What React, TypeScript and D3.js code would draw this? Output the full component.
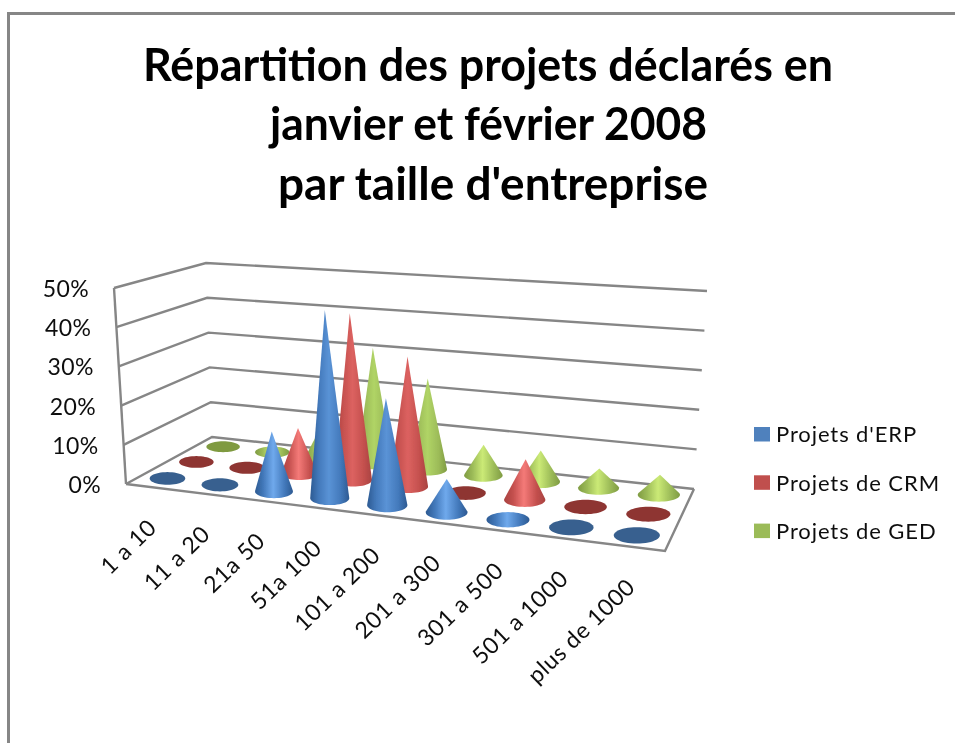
import React from "react";
import * as d3 from "d3";

const categories = ["1 a 10", "11 a 20", "21a 50", "51a 100", "101 a 200", "201 a 300", "301 a 500", "501 a 1000", "plus de 1000"];
const seriesNames = ["Projets d'ERP", "Projets de CRM", "Projets de GED"];
const erp = [0, 0, 15, 46.5, 26, 8, 1.5, 0, 0];
const crm = [0, 0, 12, 43, 33, 0, 10, 0, 0];
const ged = [0, 1, 9, 31, 24, 8, 8, 5, 5];
const yTicks = [0, 10, 20, 30, 40, 50];
const titleLines = ["Répartition des projets déclarés en", "janvier et février 2008", "par taille d'entreprise"];

const W = 955;
const H = 743;
const values = [erp, crm, ged];

// flat colour = zero value disc, edge/mid = cone shading
const palette = [
  { flat: "#38618f", edge: "#2d5a92", body: "#4379bb", tall: "#5a93d6", short: "#6fa9ec", swatch: "#4f81bd" },
  { flat: "#8e3533", edge: "#a84240", body: "#c4504e", tall: "#dc6260", short: "#f47a78", swatch: "#c0504d" },
  { flat: "#7f9a41", edge: "#7f9b42", body: "#9cbb58", tall: "#b0d466", short: "#cbea76", swatch: "#9bbb59" },
];
const shades = ["tall", "short"] as const;

type Pt = [number, number];

// projective map of the unit square onto a quad (p00, p10, p11, p01)
function homography(q: Pt[]) {
  const [p0, p1, p2, p3] = q;
  const dx1 = p1[0] - p2[0], dx2 = p3[0] - p2[0], sx = p0[0] - p1[0] + p2[0] - p3[0];
  const dy1 = p1[1] - p2[1], dy2 = p3[1] - p2[1], sy = p0[1] - p1[1] + p2[1] - p3[1];
  const den = dx1 * dy2 - dx2 * dy1;
  const g = (sx * dy2 - dx2 * sy) / den;
  const h = (dx1 * sy - sx * dy1) / den;
  const a = p1[0] - p0[0] + g * p1[0], b = p3[0] - p0[0] + h * p3[0];
  const d = p1[1] - p0[1] + g * p1[1], e = p3[1] - p0[1] + h * p3[1];
  return (u: number, v: number): Pt => {
    const w = g * u + h * v + 1;
    return [(a * u + b * v + p0[0]) / w, (d * u + e * v + p0[1]) / w];
  };
}

// u runs left to right, v runs front to back
const floorQuad: Pt[] = [[126, 484], [665, 551], [694, 489], [212, 437]];
const topQuad: Pt[] = [[114, 288], [684, 326], [707, 291], [206, 263]];
const floor = homography(floorQuad);
const ceiling = homography(topQuad);

const uScale = d3.scaleBand<number>().domain(d3.range(categories.length)).range([0, 1]);
const vScale = d3.scaleBand<number>().domain([0, 1, 2]).range([0, 1]);
const hScale = d3.scaleLinear().domain([0, 50]).range([0, 1]);

function project(u: number, v: number, val: number): Pt {
  const a = floor(u, v);
  const b = ceiling(u, v);
  const t = hScale(val);
  return [a[0] + (b[0] - a[0]) * t, a[1] + (b[1] - a[1]) * t];
}

const line = d3.line();

function conePath(c: number, s: number, val: number) {
  const u = uScale(c)! + uScale.bandwidth() / 2;
  const v = vScale(s)! + vScale.bandwidth() / 2;
  const ru = uScale.bandwidth() * 0.345;
  const rv = vScale.bandwidth() * 0.37;
  const [cx, cy] = floor(u, v);
  // the base stays a level ellipse, only its size follows the perspective
  const rx = (floor(u + ru, v)[0] - floor(u - ru, v)[0]) / 2;
  const ry = Math.abs(floor(u, v + rv)[1] - floor(u, v - rv)[1]) / 2;
  const ring: Pt[] = d3.range(48).map((i) => {
    const a = (i / 48) * Math.PI * 2;
    return [cx + rx * Math.cos(a), cy + ry * Math.sin(a)];
  });
  if (val <= 0) return line(ring) + "Z";
  const hull = d3.polygonHull([...ring, project(u, v, val)])!;
  return line(hull) + "Z";
}

// back row first so the front row covers it
const marks = [2, 1, 0].flatMap((s) => categories.map((_, c) => ({ s, c, val: values[s][c] })));

export default function App() {
  const font = "Lato, 'Noto Sans', sans-serif";
  return (
    <svg width={W} height={H} style={{ position: "absolute", left: 0, top: 0, background: "#fff" }}>
      <defs>
        {palette.map((p, i) =>
          shades.map((k) => (
            <linearGradient key={k} id={`cone${i}${k}`} x1="0" x2="1" y1="0" y2="0">
              <stop offset="0" stopColor={p.edge} />
              <stop offset="0.22" stopColor={p.body} />
              <stop offset="0.48" stopColor={p[k]} />
              <stop offset="0.78" stopColor={p.body} />
              <stop offset="1" stopColor={p.edge} />
            </linearGradient>
          ))
        )}
        <filter id="soft" filterUnits="userSpaceOnUse" x={0} y={0} width={W} height={H}>
          <feGaussianBlur stdDeviation="0.5" />
        </filter>
      </defs>

      <g filter="url(#soft)">
        <path d={`M8.5,${H + 5}V13.5H${W + 5}`} fill="none" stroke="#868686" strokeWidth={3} />

        {titleLines.map((t, i) => (
          <text key={i} x={[143, 270, 278][i]} y={[81, 140, 200][i]} textLength={[690, 437, 430][i]} lengthAdjust="spacingAndGlyphs" fontFamily={font} fontWeight={700} fontSize={45}>
            {t}
          </text>
        ))}

        {/* walls */}
        <g fill="none" stroke="#868686" strokeWidth={2.4}>
          {yTicks.map((t) => (
            <path key={t} d={line([project(0, 0, t), project(0, 1, t), project(1, 1, t)])!} />
          ))}
          <path d={line([project(0, 0, 0), project(0, 0, 50)])!} />
          <path d={line([project(0, 0, 0), project(1, 0, 0), project(1, 1, 0)])!} />
        </g>

        {marks.map(({ s, c, val }) => (
          <path key={`${s}-${c}`} d={conePath(c, s, val)} fill={val > 0 ? `url(#cone${s}${val > 20 ? "tall" : "short"})` : palette[s].flat} />
        ))}

        {yTicks.map((t) => {
          const p = project(0, 0, t);
          return (
            <text key={t} x={p[0] - 25} y={p[1] + 9} textAnchor="end" fontFamily={font} fontSize={23} fill="#111" letterSpacing={0.4}>
              {t}%
            </text>
          );
        })}

        {categories.map((c, i) => {
          const p = floor(uScale(i)! + uScale.bandwidth() / 2, 0);
          return (
            <text key={c} transform={`translate(${p[0] + 6},${p[1] + 42}) rotate(-44)`} textAnchor="end" fontFamily={font} fontSize={23} fill="#111" letterSpacing={0.6}>
              {c}
            </text>
          );
        })}

        {seriesNames.map((n, i) => (
          <g key={n}>
            <rect x={754} y={427 + i * 48.3} width={16} height={14.5} fill={palette[i].swatch} />
            <text x={776} y={442 + i * 48.5} fontFamily={font} fontSize={22} fill="#111" letterSpacing={0.9}>
              {n}
            </text>
          </g>
        ))}
      </g>
    </svg>
  );
}
